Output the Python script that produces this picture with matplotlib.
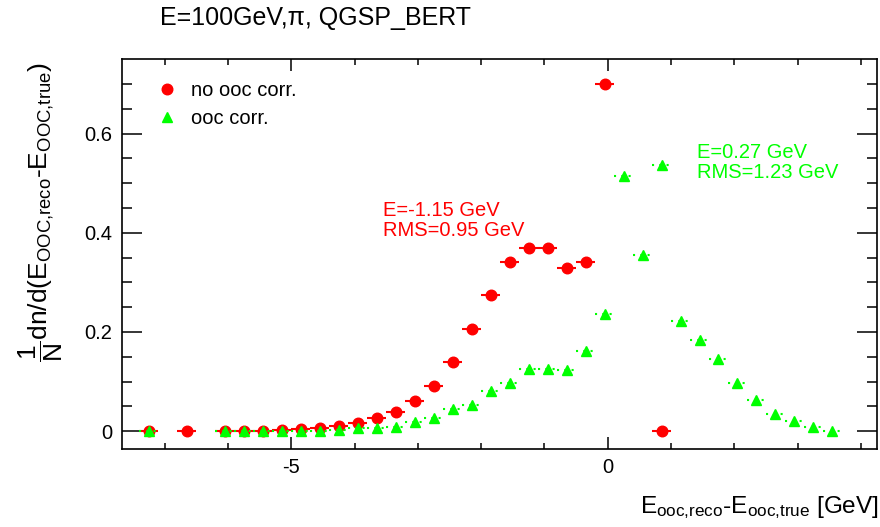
import matplotlib
matplotlib.use('Agg')
import matplotlib.pyplot as plt
from matplotlib.lines import Line2D

plt.rcParams['font.family'] = ['Liberation Sans', 'DejaVu Sans']
plt.rcParams['mathtext.fontset'] = 'custom'
plt.rcParams['mathtext.rm'] = 'Liberation Sans'
plt.rcParams['mathtext.it'] = 'Liberation Sans:italic'
plt.rcParams['mathtext.sf'] = 'Liberation Sans'
plt.rcParams['mathtext.bf'] = 'Liberation Sans:bold'

# ---------------- data ----------------
bin_half_width = 0.15

red_x = [-7.25, -6.65, -6.05, -5.75, -5.45, -5.15, -4.85, -4.55, -4.25, -3.95,
         -3.65, -3.35, -3.05, -2.75, -2.45, -2.15, -1.85, -1.55, -1.25, -0.95,
         -0.65, -0.35, -0.05, 0.85]
red_y = [0.0, 0.0, 0.0005, 0.0008, 0.001, 0.0026, 0.0034, 0.0054, 0.010, 0.0155,
         0.0256, 0.0377, 0.061, 0.092, 0.1385, 0.206, 0.2756, 0.342, 0.370, 0.370,
         0.330, 0.342, 0.701, 0.0]

green_x = [-7.25, -6.05, -5.75, -5.45, -5.15, -4.85, -4.55, -4.25, -3.95, -3.65,
           -3.35, -3.05, -2.75, -2.45, -2.15, -1.85, -1.55, -1.25, -0.95, -0.65,
           -0.35, -0.05, 0.25, 0.55, 0.85, 1.15, 1.45, 1.75, 2.05, 2.35,
           2.65, 2.95, 3.25, 3.55]
green_y = [0.0, 0.0, 0.0, 0.0, 0.0, 0.0, 0.0005, 0.0014, 0.0054, 0.0067,
           0.0087, 0.0175, 0.0256, 0.044, 0.052, 0.081, 0.098, 0.126, 0.125, 0.123,
           0.162, 0.237, 0.514, 0.355, 0.536, 0.222, 0.183, 0.145, 0.098, 0.0625,
           0.034, 0.020, 0.0075, 0.0005]

series_labels = ['no ooc corr.', 'ooc corr.']
title_text = 'E=100GeV,\u03c0, QGSP_BERT'
red_stats = ['E=-1.15 GeV', 'RMS=0.95 GeV']
green_stats = ['E=0.27 GeV', 'RMS=1.23 GeV']
x_ticks = [-5, 0]
y_ticks = [0, 0.2, 0.4, 0.6]
y_tick_labels = ['0', '0.2', '0.4', '0.6']

RED = '#ff0000'
GREEN = '#00ff00'
FS = 14.5

W, H = 880, 527
fig = plt.figure(figsize=(W / 100, H / 100), dpi=100)
ax = fig.add_axes([121.7 / W, 1 - 448.5 / H, (877 - 121.7) / W, (448.5 - 59.3) / H])

ebr = ax.errorbar(red_x, red_y, xerr=bin_half_width, fmt='o', color=RED, ms=7.6,
                  elinewidth=1.5, capsize=0, zorder=3)
ebg = ax.errorbar(green_x, green_y, xerr=bin_half_width, fmt='^', color=GREEN, ms=7.6,
                  elinewidth=1.5, capsize=0, zorder=4)
for lc in ebg[2]:
    lc.set_linestyle((0, (1, 2.5)))

ax.set_xlim(-7.678, 4.254)
ax.set_ylim(-0.035, 0.75)

ax.set_xticks(x_ticks)
ax.set_xticklabels([str(t) for t in x_ticks])
ax.set_xticks(range(-7, 5), minor=True)
ax.set_yticks(y_ticks)
ax.set_yticklabels(y_tick_labels)
ax.set_yticks([i * 0.05 for i in range(0, 15)], minor=True)

ax.tick_params(axis='both', which='both', direction='in', top=True, right=True,
               labelsize=FS, width=1.1, color='black')
ax.tick_params(axis='x', which='major', length=8.6, pad=7)
ax.tick_params(axis='x', which='minor', length=4.3)
ax.tick_params(axis='y', which='major', length=14.4, pad=7)
ax.tick_params(axis='y', which='minor', length=7.2)
for sp in ax.spines.values():
    sp.set_linewidth(1.2)

# legend
handles = [Line2D([], [], marker='o', color=RED, ls='none', ms=7.6),
           Line2D([], [], marker='^', color=GREEN, ls='none', ms=7.6)]
ax.legend(handles, series_labels, loc='upper left', frameon=False, fontsize=FS,
          bbox_to_anchor=(157 / W, 1 - 81 / H), bbox_transform=fig.transFigure,
          borderpad=0, borderaxespad=0, handlelength=1.0, handletextpad=0.7,
          labelspacing=0.45)

# texts
fig.text(160 / W, 1 - 18 / H, title_text, fontsize=18, ha='left', va='center')
fig.text(383 / W, 1 - 210 / H, red_stats[0], color=RED, fontsize=FS, ha='left', va='center')
fig.text(383 / W, 1 - 230 / H, red_stats[1], color=RED, fontsize=FS, ha='left', va='center')
fig.text(697 / W, 1 - 152 / H, green_stats[0], color=GREEN, fontsize=FS, ha='left', va='center')
fig.text(697 / W, 1 - 172 / H, green_stats[1], color=GREEN, fontsize=FS, ha='left', va='center')

fig.text(879 / W, 1 - 508 / H,
         r'E$_{\mathrm{ooc{,}reco}}$-E$_{\mathrm{ooc{,}true}}$ [GeV]',
         fontsize=17.6, ha='right', va='center')
fig.text(41 / W, 1 - 62 / H,
         r'$\dfrac{1}{\mathrm{N}}$dn/d(E$_{\mathrm{OOC{,}reco}}$-E$_{\mathrm{OOC{,}true}}$)',
         fontsize=19, rotation=90, ha='center', va='top')

fig.savefig('out.png', dpi=100)
